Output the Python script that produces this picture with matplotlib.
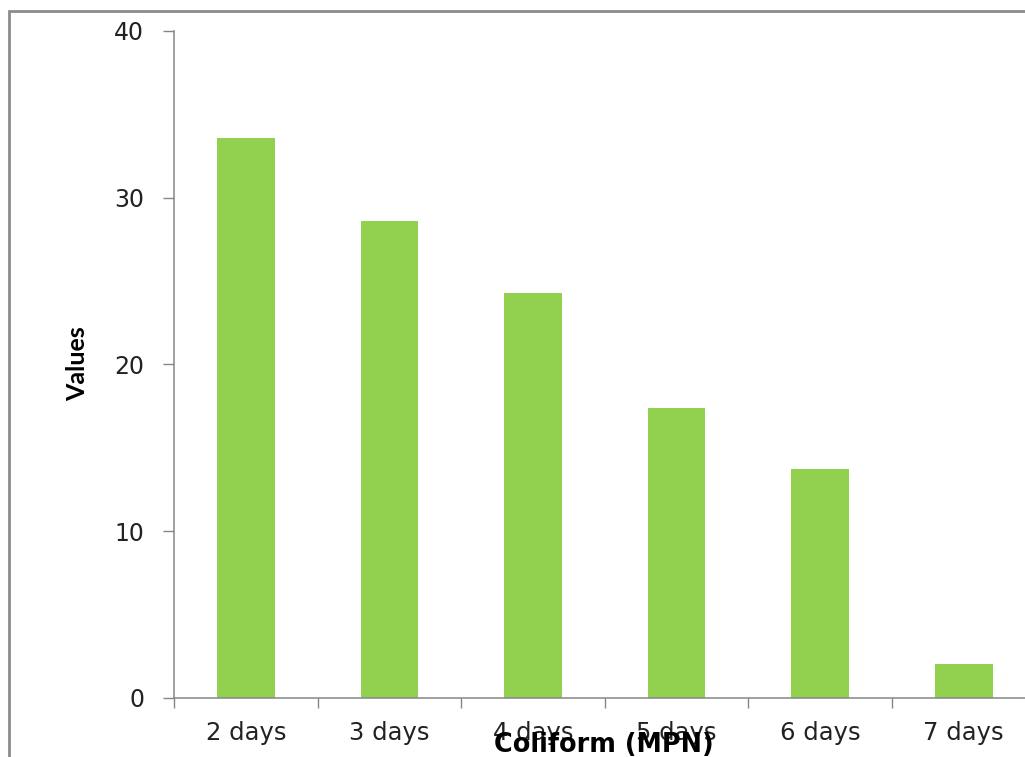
import matplotlib
matplotlib.use("Agg")
import matplotlib.pyplot as plt
from matplotlib.patches import Rectangle
import numpy as np

# values
categories = ["2 days", "3 days", "4 days", "5 days", "6 days", "7 days"]
values = [33.6, 28.6, 24.3, 17.4, 13.7, 2.0]
y_ticks = [0, 10, 20, 30, 40]

BAR_COLOR = "#92D050"
AXIS_COLOR = "#868686"

fig = plt.figure(figsize=(10.25, 7.57), dpi=100)
# axes run past the right edge, as in the cropped original
ax = fig.add_axes([174 / 1025, 1 - 697.7 / 757, 861.6 / 1025, 666.7 / 757])

x = np.arange(len(categories))
ax.bar(x, values, width=0.4, color=BAR_COLOR, linewidth=0)

ax.set_xlim(-0.5, len(categories) - 0.5)
ax.set_ylim(0, 40)

# Excel-style: ticks between categories, labels centred under bars
ax.set_xticks(np.arange(-0.5, len(categories) + 0.5, 1.0))
ax.set_xticklabels([])
ax.set_xticks(x, minor=True)
ax.set_xticklabels(categories, minor=True, fontsize=17.5, family="DejaVu Sans", color="#222222")
ax.tick_params(axis="x", which="major", direction="out", length=7.5, width=1, color=AXIS_COLOR)
ax.tick_params(axis="x", which="minor", length=0, pad=17)

ax.set_yticks(y_ticks)
ax.set_yticklabels([str(v) for v in y_ticks], fontsize=17, family="DejaVu Sans", color="#222222")
ax.tick_params(axis="y", direction="out", length=8, width=1, color=AXIS_COLOR, pad=13.5)

for side in ("top", "right"):
    ax.spines[side].set_visible(False)
for side in ("left", "bottom"):
    ax.spines[side].set_color(AXIS_COLOR)
    ax.spines[side].set_linewidth(1.1)

fig.text(78 / 1025, 1 - 364 / 757, "Values", rotation=90, ha="center", va="center",
         fontsize=18, fontweight="bold", family="Lato", color="black")
fig.text(604 / 1025, 1 - 752 / 757, "Coliform (MPN)", ha="center", va="baseline",
         fontsize=18.4, fontweight="bold", family="DejaVu Sans", color="black")

# outer chart border, cut off on the right and bottom
fig.patches.append(Rectangle((8.5 / 1025, -0.1), 1.2, 1.1 - 11 / 757,
                             transform=fig.transFigure, fill=False,
                             edgecolor="#8C8C8C", linewidth=2, zorder=0))

fig.savefig("out.png", dpi=100)
plt.close(fig)
